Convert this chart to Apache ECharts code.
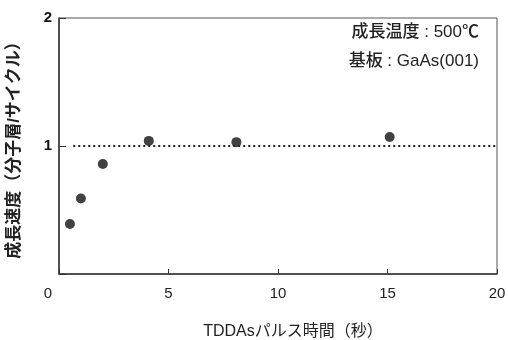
<!DOCTYPE html>
<html><head><meta charset="utf-8">
<script src="https://cdn.jsdelivr.net/npm/echarts@6/dist/echarts.min.js"></script>
<style>html,body{margin:0;padding:0;background:#fff}#c{width:508px;height:340px}</style>
</head><body><div id="c"></div>
<script>
const pulseTime = [0.5, 1.0, 2.0, 4.1, 8.1, 15.1];
const growthRate = [0.39, 0.59, 0.86, 1.04, 1.03, 1.07];
const xTicks = [0, 5, 10, 15, 20];
const yTicks = [1, 2];
const refLevel = 1;
const xName = 'TDDAsパルス時間（秒）';
const yName = '成長速度（分子層/サイクル）';
const note1 = '成長温度 : 500℃';
const note2 = '基板 : GaAs(001)';

const FF = 'Liberation Sans, Noto Sans CJK JP, sans-serif';
const chart = echarts.init(document.getElementById('c'), null, {renderer:'canvas'});
chart.setOption({
  animation:false,
  backgroundColor:'#fff',
  grid:{left:59, right:11, top:18, bottom:66, outerBoundsMode:'none', containLabel:false,
    show:true, borderColor:'#555', borderWidth:1},
  xAxis:{type:'value', min:0, max:20, interval:5,
    name:xName, nameLocation:'middle', nameGap:50,
    nameTextStyle:{fontFamily:FF, fontSize:16, color:'#222', padding:[0,0,0,30]},
    axisLine:{show:true, lineStyle:{color:'#333', width:1.5}},
    axisTick:{show:true, inside:true, length:5, lineStyle:{color:'#333'}},
    axisLabel:{fontFamily:FF, fontSize:15, color:'#222', margin:12,
      formatter:v=>v===0?'{z|0}':(xTicks.includes(v)?String(v):''),
      rich:{z:{fontFamily:FF, fontSize:15, color:'#222', padding:[0,22,0,0]}}},
    splitLine:{show:false}},
  yAxis:{type:'value', min:0, max:2, interval:1,
    name:yName, nameLocation:'middle', nameGap:36, nameRotate:90,
    nameTextStyle:{fontFamily:FF, fontSize:17, color:'#222', fontWeight:'bold'},
    axisLine:{show:true, lineStyle:{color:'#333', width:1.5}},
    axisTick:{show:true, inside:true, length:7, lineStyle:{color:'#333'}},
    axisLabel:{fontFamily:FF, fontSize:15, color:'#111', fontWeight:'bold', margin:7,
      formatter:v=>yTicks.includes(v)?String(v):''},
    splitLine:{show:false}},
  graphic:[
    {type:'text', right:29, top:24, style:{text:note1, font:'500 17px '+FF, fill:'#222', textAlign:'right'}},
    {type:'text', right:29, top:53, style:{text:note2, font:'500 17px '+FF, fill:'#222', textAlign:'right'}}
  ],
  series:[{
    type:'scatter',
    data:pulseTime.map((x,i)=>[x, growthRate[i]]),
    symbolSize:10,
    itemStyle:{color:'#111'},
    markLine:{silent:true, symbol:'none', label:{show:false},
      lineStyle:{color:'#222', type:[2,3], width:2},
      data:[[{coord:[0.65, refLevel]},{coord:[20, refLevel]}]]}
  }]
});
</script></body></html>
